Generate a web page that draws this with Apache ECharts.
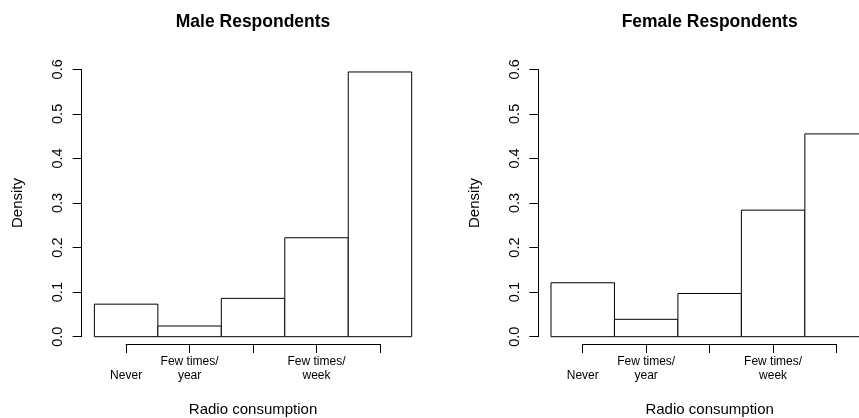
<!DOCTYPE html>
<html>
<head>
<meta charset="utf-8">
<script src="https://cdn.jsdelivr.net/npm/echarts@6/dist/echarts.min.js"></script>
<style>
html,body{margin:0;padding:0;background:#fff;}
#chart{width:859px;height:418px;}
</style>
</head>
<body>
<div id="chart"></div>
<script>
// ---- data ----
const panelTitles = ['Male Respondents', 'Female Respondents'];
const binEdges = [0.5, 1.5, 2.5, 3.5, 4.5, 5.5];
const xTickValues = [1, 2, 3, 4, 5];
const xTickLabels = ['Never', 'Few times/\nyear', '', 'Few times/\nweek', ''];
const maleDensity = [0.073, 0.024, 0.086, 0.222, 0.594];
const femaleDensity = [0.121, 0.039, 0.097, 0.284, 0.455];
const yTickMin = 0, yTickMax = 0.6, yTickStep = 0.1;
const xAxisTitle = 'Radio consumption';
const yAxisTitle = 'Density';

// ---- layout ----
const FONT = 'Liberation Sans, Arial, Helvetica, sans-serif';
const CANVAS_W = 859;
const plotTop = 69.3, plotH = 267.4, plotW = 342.7;
const panelLeft = [81.7, 538.3];
const xMin = 0.3, xMax = 5.7;
const pxPerUnit = plotW / (xMax - xMin);

const chart = echarts.init(document.getElementById('chart'));

const grids = [], xAxes = [], yAxes = [], series = [], titles = [];
const datasets = [maleDensity, femaleDensity];

datasets.forEach((vals, p) => {
  const L = panelLeft[p];
  // plot region may run past the canvas edge: keep the grid inside, same scale
  const gW = Math.min(plotW, CANVAS_W - L);
  const gMax = xMin + gW / pxPerUnit;
  grids.push({left: L, top: plotTop, width: gW, height: plotH, containLabel: false});
  // axis grid (bottom axis spanning first to last tick)
  const axL = L + (xTickValues[0] - xMin) * pxPerUnit;
  const axW = (xTickValues[xTickValues.length - 1] - xTickValues[0]) * pxPerUnit;
  grids.push({left: axL, top: plotTop + plotH, width: axW, height: 10.6, containLabel: false});

  const gi = p * 2;
  xAxes.push({
    gridIndex: gi, type: 'value', min: xMin, max: gMax, show: false
  });
  yAxes.push({
    gridIndex: gi, type: 'value', min: yTickMin, max: yTickMax, interval: yTickStep,
    axisLine: {show: true, lineStyle: {color: '#000', width: 1}},
    axisTick: {show: true, length: 9, lineStyle: {color: '#000'}},
    splitLine: {show: false},
    axisLabel: {
      rotate: 90, fontSize: 14.5, color: '#000', fontFamily: FONT, margin: 16,
      formatter: v => v.toFixed(1)
    },
    name: yAxisTitle, nameLocation: 'middle', nameRotate: 90, nameGap: 56,
    nameTextStyle: {fontSize: 15, color: '#000', fontFamily: FONT}
  });
  xAxes.push({
    gridIndex: gi + 1, type: 'value', min: xTickValues[0], max: xTickValues[xTickValues.length - 1],
    interval: 1, position: 'bottom',
    axisLine: {show: true, onZero: false, lineStyle: {color: '#000', width: 1}},
    axisTick: {show: true, length: 9, lineStyle: {color: '#000'}},
    splitLine: {show: false},
    axisLabel: {
      fontSize: 12, color: '#000', fontFamily: FONT, margin: 39, lineHeight: 14,
      verticalAlign: 'bottom', showMinLabel: true, showMaxLabel: true,
      formatter: v => xTickLabels[xTickValues.indexOf(Math.round(v))] || ''
    },
    name: xAxisTitle, nameLocation: 'middle', nameGap: 58,
    nameTextStyle: {fontSize: 15, color: '#000', fontFamily: FONT}
  });
  yAxes.push({gridIndex: gi + 1, type: 'value', min: 0, max: 1, show: false});

  series.push({
    type: 'custom',
    xAxisIndex: gi, yAxisIndex: gi,
    clip: false,
    data: vals.map((v, i) => [binEdges[i], binEdges[i + 1], v]),
    encode: {x: [0, 1], y: 2},
    renderItem: (params, api) => {
      const x0 = api.value(0), x1 = api.value(1), v = api.value(2);
      const a = api.coord([x0, v]);
      const b = api.coord([x1, 0]);
      return {
        type: 'rect',
        shape: {x: a[0], y: a[1], width: b[0] - a[0], height: b[1] - a[1]},
        style: {fill: '#fff', stroke: '#000', lineWidth: 1}
      };
    },
    silent: true, animation: false
  });

  titles.push({
    text: panelTitles[p], left: L + plotW / 2, top: 13, textAlign: 'center', padding: 0,
    textStyle: {fontSize: 17.5, fontWeight: 'bold', color: '#000', fontFamily: FONT}
  });
});

chart.setOption({
  animation: false,
  backgroundColor: '#fff',
  textStyle: {fontFamily: FONT},
  title: titles,
  grid: grids,
  xAxis: xAxes,
  yAxis: yAxes,
  series: series
});
</script>
</body>
</html>
